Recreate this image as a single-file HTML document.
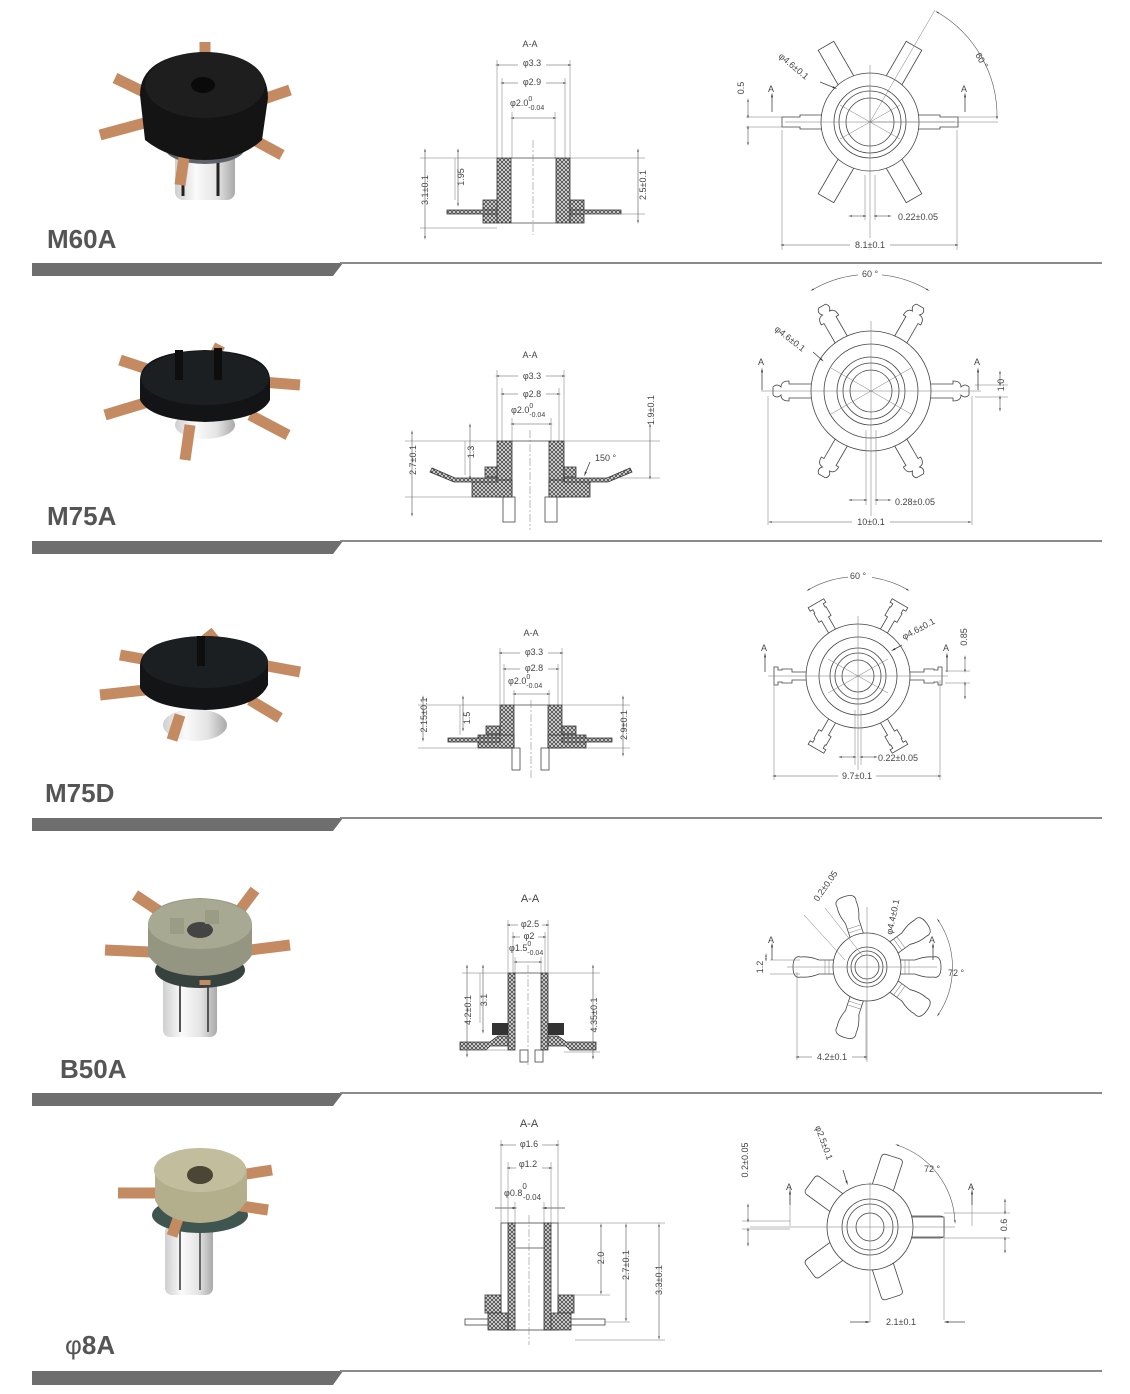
<!DOCTYPE html>
<html><head><meta charset="utf-8"><style>
html,body{margin:0;padding:0;background:#fff}
svg{display:block}
text{font-family:"Liberation Sans",sans-serif;fill:#444}
.t{font-size:9px}
.lab{font-size:26px;font-weight:bold;fill:#555}
.ln{stroke:#444;stroke-width:0.8;fill:none}
.thin{stroke:#777;stroke-width:0.5;fill:none}
.dim{stroke:#555;stroke-width:0.6;fill:none;marker-start:url(#a);marker-end:url(#a)}
.h{fill:url(#hx);stroke:#333;stroke-width:0.8}
.arm{fill:#fff;stroke:#444;stroke-width:0.8}
.cu{stroke:#c48a62;stroke-width:11;stroke-linecap:butt}
</style></head><body>
<svg width="1130" height="1394" viewBox="0 0 1130 1394" xmlns="http://www.w3.org/2000/svg">
<defs>
<pattern id="hx" width="4" height="4" patternUnits="userSpaceOnUse">
<rect width="4" height="4" fill="#ddd"/>
<path d="M0 0L4 4M4 0L0 4" stroke="#333" stroke-width="0.7"/>
</pattern>
<marker id="a" viewBox="0 0 10 10" refX="5" refY="5" markerWidth="6" markerHeight="6" orient="auto-start-reverse">
<path d="M0 3L10 5L0 7z" fill="#333"/>
</marker>
<linearGradient id="sil" x1="0" x2="1">
<stop offset="0" stop-color="#cfcfcf"/><stop offset="0.35" stop-color="#fafafa"/><stop offset="0.7" stop-color="#e4e4e4"/><stop offset="1" stop-color="#a9a9a9"/>
</linearGradient>
</defs>

<!-- dividers -->
<g fill="#6e6e6e">
<path d="M32 263H343L333 276H32Z"/>
<path d="M32 541H343L333 554H32Z"/>
<path d="M32 818H343L333 831H32Z"/>
<path d="M32 1093H343L333 1106H32Z"/>
<path d="M32 1371H343L333 1385H32Z"/>
</g>
<g stroke="#8a8a8a" stroke-width="2">
<line x1="340" y1="263" x2="1102" y2="263"/>
<line x1="340" y1="541" x2="1102" y2="541"/>
<line x1="340" y1="818" x2="1102" y2="818"/>
<line x1="340" y1="1093" x2="1102" y2="1093"/>
<line x1="340" y1="1371" x2="1102" y2="1371"/>
</g>

<!-- labels -->
<text class="lab" x="47" y="248">M60A</text>
<text class="lab" x="47" y="525">M75A</text>
<text class="lab" x="45" y="802">M75D</text>
<text class="lab" x="60" y="1078">B50A</text>
<text class="lab" x="65" y="1354"><tspan style="font-weight:normal">φ</tspan>8A</text>

<!-- ===== PHOTO 1 ===== -->
<g>
<rect x="175" y="140" width="60" height="60" rx="8" fill="url(#sil)"/>
<line x1="183" y1="160" x2="183" y2="196" stroke="#222" stroke-width="3"/>
<line x1="218" y1="160" x2="218" y2="196" stroke="#222" stroke-width="3"/>
<ellipse cx="205" cy="148" rx="40" ry="16" fill="#5f6268"/>
<line class="cu" x1="150" y1="95" x2="115" y2="78"/>
<line class="cu" x1="148" y1="122" x2="100" y2="135"/>
<line class="cu" x1="205" y1="60" x2="205" y2="42"/>
<line class="cu" x1="255" y1="102" x2="290" y2="90"/>
<line class="cu" x1="245" y1="135" x2="282" y2="155"/>
<line class="cu" x1="185" y1="150" x2="180" y2="185"/>
<path d="M140 95Q140 55 205 52Q268 55 268 98L262 140Q240 160 205 160Q170 160 145 140Z" fill="#141414"/>
<ellipse cx="205" cy="85" rx="60" ry="33" fill="#1e1e1e"/>
<ellipse cx="203" cy="85" rx="12" ry="8" fill="#0a0a0a"/>
</g>

<!-- ===== PHOTO 2 ===== -->
<g>
<ellipse cx="205" cy="425" rx="30" ry="14" fill="url(#sil)"/>
<line class="cu" x1="150" y1="370" x2="120" y2="360" stroke-width="9"/>
<line class="cu" x1="148" y1="402" x2="105" y2="415" stroke-width="9"/>
<line class="cu" x1="215" y1="355" x2="220" y2="345" stroke-width="9"/>
<line class="cu" x1="262" y1="382" x2="300" y2="385" stroke-width="9"/>
<line class="cu" x1="250" y1="415" x2="288" y2="435" stroke-width="9"/>
<line class="cu" x1="190" y1="425" x2="185" y2="460" stroke-width="9"/>
<path d="M140 380Q140 352 205 350Q270 352 270 380V400Q260 420 205 422Q150 420 140 400Z" fill="#121416"/>
<ellipse cx="205" cy="378" rx="64" ry="27" fill="#1c1f22"/>
<rect x="175" y="350" width="8" height="30" fill="#0e0e0e"/>
<rect x="214" y="348" width="8" height="32" fill="#0e0e0e"/>
</g>

<!-- ===== PHOTO 3 ===== -->
<g>
<ellipse cx="195" cy="725" rx="32" ry="16" fill="url(#sil)"/>
<line class="cu" x1="148" y1="660" x2="120" y2="655" stroke-width="8"/>
<line class="cu" x1="145" y1="690" x2="100" y2="695" stroke-width="8"/>
<line class="cu" x1="205" y1="640" x2="215" y2="632" stroke-width="8"/>
<line class="cu" x1="262" y1="665" x2="300" y2="672" stroke-width="8"/>
<line class="cu" x1="250" y1="700" x2="280" y2="718" stroke-width="8"/>
<line class="cu" x1="180" y1="715" x2="172" y2="740" stroke-width="8"/>
<path d="M140 665Q142 638 205 636Q268 638 268 665V685Q258 708 205 710Q150 708 140 688Z" fill="#121416"/>
<ellipse cx="205" cy="662" rx="63" ry="26" fill="#1c1f22"/>
<rect x="197" y="636" width="8" height="30" fill="#0e0e0e"/>
</g>

<!-- ===== PHOTO 4 ===== -->
<g>
<rect x="163" y="975" width="54" height="62" rx="7" fill="url(#sil)"/>
<line x1="180" y1="985" x2="180" y2="1032" stroke="#555" stroke-width="2"/>
<line x1="208" y1="985" x2="208" y2="1032" stroke="#555" stroke-width="2"/>
<ellipse cx="200" cy="970" rx="45" ry="18" fill="#36423e"/>
<line class="cu" x1="165" y1="915" x2="135" y2="895" stroke-width="12"/>
<line class="cu" x1="150" y1="952" x2="105" y2="950" stroke-width="12"/>
<line class="cu" x1="240" y1="910" x2="255" y2="890" stroke-width="12"/>
<line class="cu" x1="250" y1="950" x2="290" y2="945" stroke-width="12"/>
<line class="cu" x1="205" y1="980" x2="205" y2="985" stroke-width="18"/>
<path d="M148 925Q150 900 200 898Q250 900 252 925V955Q240 975 200 976Q160 975 148 955Z" fill="#959682"/>
<ellipse cx="200" cy="924" rx="52" ry="25" fill="#a8a993"/>
<ellipse cx="200" cy="930" rx="13" ry="8" fill="#444"/>
<rect x="170" y="918" width="14" height="16" fill="#9b9c86"/>
<rect x="205" y="910" width="14" height="14" fill="#9b9c86"/>
</g>

<!-- ===== PHOTO 5 ===== -->
<g>
<rect x="165" y="1225" width="48" height="70" rx="7" fill="url(#sil)"/>
<line x1="180" y1="1230" x2="180" y2="1290" stroke="#666" stroke-width="2"/>
<line x1="200" y1="1230" x2="200" y2="1290" stroke="#666" stroke-width="2"/>
<ellipse cx="200" cy="1215" rx="48" ry="18" fill="#3f5550"/>
<line class="cu" x1="160" y1="1193" x2="118" y2="1193" stroke-width="14"/>
<line class="cu" x1="240" y1="1175" x2="272" y2="1170" stroke-width="14"/>
<line class="cu" x1="235" y1="1205" x2="268" y2="1210" stroke-width="14"/>
<line class="cu" x1="180" y1="1213" x2="172" y2="1236" stroke-width="16"/>
<path d="M155 1170Q157 1150 200 1150Q245 1150 247 1172V1200Q236 1222 200 1223Q164 1222 155 1200Z" fill="#b3ae8c"/>
<ellipse cx="200" cy="1170" rx="46" ry="22" fill="#c2bd9c"/>
<ellipse cx="200" cy="1175" rx="13" ry="9" fill="#4a4535"/>
</g>

<!-- ===== SECTION 1 ===== -->
<g>
<text class="t" x="530" y="47" text-anchor="middle">A-A</text>
<line class="dim" x1="497" y1="65" x2="570" y2="65"/><rect x="518" y="58" width="28" height="11" fill="#fff"/><text class="t" x="532" y="66" text-anchor="middle">φ3.3</text>
<line class="dim" x1="502" y1="83" x2="565" y2="83"/><rect x="518" y="76" width="28" height="11" fill="#fff"/><text class="t" x="532" y="85" text-anchor="middle">φ2.9</text>
<text class="t" x="510" y="106">φ2.0<tspan font-size="7" dy="-5">0</tspan><tspan font-size="7" dx="-4" dy="9">-0.04</tspan></text>
<line class="dim" x1="512" y1="118" x2="555" y2="118"/>
<path class="thin" d="M497 60V158M570 60V158M502 78V158M565 78V158M512 112V158M555 112V158"/>
<rect class="h" x="497" y="158" width="14" height="65"/>
<rect class="h" x="556" y="158" width="14" height="65"/>
<line class="ln" x1="511" y1="158" x2="556" y2="158"/>
<line class="ln" x1="511" y1="223" x2="556" y2="223"/>
<rect class="h" x="483" y="200" width="14" height="23"/>
<rect class="h" x="570" y="200" width="14" height="23"/>
<rect class="h" x="447" y="210" width="50" height="4"/>
<rect class="h" x="570" y="210" width="51" height="4"/>
<path class="thin" d="M420 158H497M420 228H497M455 158V200M570 158H645M584 214H645"/>
<line class="dim" x1="425" y1="150" x2="425" y2="238"/>
<line class="dim" x1="458" y1="150" x2="458" y2="205"/>
<line class="dim" x1="638" y1="150" x2="638" y2="222"/>
<text class="t" transform="translate(428,190) rotate(-90)" text-anchor="middle">3.1±0.1</text>
<text class="t" transform="translate(464,177) rotate(-90)" text-anchor="middle">1.95</text>
<text class="t" transform="translate(646,185) rotate(-90)" text-anchor="middle">2.5±0.1</text>
<line class="thin" x1="533" y1="140" x2="533" y2="235" stroke-dasharray="8 2 2 2"/>
</g>

<!-- ===== STAR 1 ===== -->
<g transform="translate(870,122)">
<g class="arm">
<path d="M45 -7H70V-5H88V5H70V7H45Z"/>
<path d="M45 -7H70V-5H88V5H70V7H45Z" transform="rotate(180)"/>
<path d="M45 -9H88V9H45Z" transform="rotate(-60)"/>
<path d="M45 -9H88V9H45Z" transform="rotate(-120)"/>
<path d="M45 -9H88V9H45Z" transform="rotate(60)"/>
<path d="M45 -9H88V9H45Z" transform="rotate(120)"/>
</g>
<circle r="49" class="arm"/>
<circle r="36" class="ln"/><circle r="31" class="ln"/><circle r="24" class="ln"/>
<path class="thin" d="M-30 -17L30 17M-30 17L30 -17M0 -35V35M-85 0H85"/>
</g>
<g>
<path class="thin" d="M746 117H782M746 127H782M955 117H998M870 65V250M865 175V220M875 175V220M782 130V250M957 130V250"/>
<path class="thin" d="M870 122L935 10M870 122L998 122"/>
<line class="dim" x1="748" y1="100" x2="748" y2="117"/>
<line class="dim" x1="748" y1="144" x2="748" y2="127"/>
<text class="t" transform="translate(744,88) rotate(-90)" text-anchor="middle">0.5</text>
<line class="ln" x1="772" y1="95" x2="772" y2="112" marker-start="url(#a)"/>
<text class="t" x="768" y="92">A</text>
<line class="ln" x1="965" y1="95" x2="965" y2="112" marker-start="url(#a)"/>
<text class="t" x="961" y="92">A</text>
<path class="dim" d="M937 12A120 120 0 0 1 997 118"/>
<text class="t" transform="translate(975,55) rotate(60)">60 °</text>
<text class="t" transform="translate(778,57) rotate(40)">φ4.6±0.1</text>
<line class="ln" x1="820" y1="82" x2="835" y2="88" marker-end="url(#a)"/>
<line class="dim" x1="850" y1="216" x2="865" y2="216"/>
<line class="dim" x1="890" y1="216" x2="875" y2="216"/>
<text class="t" x="898" y="220">0.22±0.05</text>
<line class="dim" x1="782" y1="245" x2="957" y2="245"/>
<rect x="850" y="238" width="40" height="11" fill="#fff"/>
<text class="t" x="870" y="248" text-anchor="middle">8.1±0.1</text>
</g>

<!-- ===== SECTION 2 ===== -->
<g>
<text class="t" x="530" y="358" text-anchor="middle">A-A</text>
<line class="dim" x1="497" y1="376" x2="564" y2="376"/><rect x="518" y="369" width="28" height="11" fill="#fff"/><text class="t" x="532" y="379" text-anchor="middle">φ3.3</text>
<line class="dim" x1="502" y1="394" x2="559" y2="394"/><rect x="518" y="387" width="28" height="11" fill="#fff"/><text class="t" x="532" y="397" text-anchor="middle">φ2.8</text>
<text class="t" x="511" y="413">φ2.0<tspan font-size="7" dy="-5">0</tspan><tspan font-size="7" dx="-4" dy="9">-0.04</tspan></text>
<line class="dim" x1="512" y1="424" x2="551" y2="424"/>
<path class="thin" d="M497 370V441M564 370V441M502 388V441M559 388V441M512 418V441M551 418V441"/>
<rect class="h" x="497" y="441" width="15" height="56"/>
<rect class="h" x="549" y="441" width="15" height="56"/>
<rect class="h" x="472" y="480" width="40" height="17"/>
<rect class="h" x="549" y="480" width="41" height="17"/>
<rect class="h" x="485" y="467" width="12" height="10"/>
<rect class="h" x="564" y="467" width="12" height="10"/>
<path class="h" d="M432 468L455 478H497V482H454L430 472Z"/>
<path class="h" d="M630 468L607 478H564V482H608L632 472Z"/>
<line class="ln" x1="512" y1="441" x2="549" y2="441"/>
<rect class="ln" x="503" y="497" width="12" height="25"/>
<rect class="ln" x="545" y="497" width="12" height="25"/>
<line class="thin" x1="530" y1="430" x2="530" y2="530" stroke-dasharray="8 2 2 2"/>
<path class="thin" d="M405 441H497M405 497H472M465 441V475M564 441H660M620 478H660"/>
<line class="dim" x1="412" y1="432" x2="412" y2="515"/>
<line class="dim" x1="470" y1="425" x2="470" y2="478"/>
<line class="dim" x1="650" y1="425" x2="650" y2="478"/>
<text class="t" transform="translate(416,460) rotate(-90)" text-anchor="middle">2.7±0.1</text>
<text class="t" transform="translate(474,452) rotate(-90)" text-anchor="middle">1.3</text>
<text class="t" transform="translate(654,410) rotate(-90)" text-anchor="middle">1.9±0.1</text>
<text class="t" x="595" y="461">150 °</text>
<line class="ln" x1="590" y1="462" x2="585" y2="474" marker-end="url(#a)"/>
</g>

<!-- ===== STAR 2 ===== -->
<g transform="translate(871,391)">
<g class="arm">
<g id="ar2"><path d="M55 -7H82V-10Q90 -10 90 -4Q94 -8 98 -4V4Q94 8 90 4Q90 10 82 10V7H55Z"/></g>
<use href="#ar2" transform="rotate(180)"/>
<use href="#ar2" transform="rotate(60)"/>
<use href="#ar2" transform="rotate(120)"/>
<use href="#ar2" transform="rotate(-60)"/>
<use href="#ar2" transform="rotate(-120)"/>
</g>
<circle r="60" class="arm"/>
<circle r="47" class="ln"/><circle r="34" class="ln"/><circle r="28" class="ln"/><circle r="21" class="ln"/>
<path class="thin" d="M-40 -23L40 23M-40 23L40 -23M0 -70V130M-110 0H110"/>
</g>
<g>
<path class="thin" d="M768 396V525M972 396V525M866 430V505M876 430V505M975 385H1008M975 397H1008"/>
<line class="ln" x1="762" y1="370" x2="762" y2="390" marker-start="url(#a)"/>
<text class="t" x="758" y="365">A</text>
<line class="ln" x1="978" y1="370" x2="978" y2="390" marker-start="url(#a)"/>
<text class="t" x="974" y="365">A</text>
<line class="dim" x1="1000" y1="372" x2="1000" y2="385"/>
<line class="dim" x1="1000" y1="410" x2="1000" y2="397"/>
<text class="t" transform="translate(1004,385) rotate(-90)" text-anchor="middle">1.0</text>
<path class="dim" d="M812 290A115 115 0 0 1 928 290"/>
<rect x="858" y="268" width="24" height="10" fill="#fff"/>
<text class="t" x="862" y="277">60 °</text>
<text class="t" transform="translate(774,330) rotate(38)">φ4.6±0.1</text>
<line class="ln" x1="813" y1="352" x2="822" y2="360" marker-end="url(#a)"/>
<line class="dim" x1="850" y1="500" x2="866" y2="500"/>
<line class="dim" x1="890" y1="500" x2="876" y2="500"/>
<text class="t" x="895" y="505">0.28±0.05</text>
<line class="dim" x1="770" y1="522" x2="970" y2="522"/>
<rect x="852" y="516" width="38" height="11" fill="#fff"/>
<text class="t" x="871" y="525" text-anchor="middle">10±0.1</text>
</g>

<!-- ===== SECTION 3 ===== -->
<g>
<text class="t" x="531" y="636" text-anchor="middle">A-A</text>
<line class="dim" x1="500" y1="653" x2="562" y2="653"/><rect x="520" y="646" width="28" height="11" fill="#fff"/><text class="t" x="534" y="655" text-anchor="middle">φ3.3</text>
<line class="dim" x1="504" y1="669" x2="558" y2="669"/><rect x="520" y="662" width="28" height="11" fill="#fff"/><text class="t" x="534" y="671" text-anchor="middle">φ2.8</text>
<text class="t" x="508" y="684">φ2.0<tspan font-size="7" dy="-5">0</tspan><tspan font-size="7" dx="-4" dy="9">-0.04</tspan></text>
<line class="dim" x1="514" y1="694" x2="549" y2="694"/>
<path class="thin" d="M500 648V705M562 648V705M504 664V705M558 664V705M514 690V705M549 690V705"/>
<rect class="h" x="500" y="705" width="14" height="43"/>
<rect class="h" x="548" y="705" width="14" height="43"/>
<rect class="h" x="478" y="735" width="36" height="13"/>
<rect class="h" x="548" y="735" width="38" height="13"/>
<rect class="h" x="486" y="726" width="14" height="8"/>
<rect class="h" x="562" y="726" width="14" height="8"/>
<rect class="h" x="448" y="738" width="52" height="4"/>
<rect class="h" x="562" y="738" width="50" height="4"/>
<line class="ln" x1="514" y1="705" x2="548" y2="705"/>
<rect class="ln" x="512" y="748" width="8" height="22"/>
<rect class="ln" x="541" y="748" width="8" height="22"/>
<line class="thin" x1="531" y1="700" x2="531" y2="780" stroke-dasharray="8 2 2 2"/>
<path class="thin" d="M418 705H500M418 748H478M460 705V735M562 705H630M586 748H630"/>
<line class="dim" x1="423" y1="697" x2="423" y2="740"/>
<line class="dim" x1="463" y1="697" x2="463" y2="730"/>
<line class="dim" x1="623" y1="697" x2="623" y2="755"/>
<text class="t" transform="translate(427,715) rotate(-90)" text-anchor="middle">2.15±0.1</text>
<text class="t" transform="translate(470,718) rotate(-90)" text-anchor="middle">1.5</text>
<text class="t" transform="translate(627,725) rotate(-90)" text-anchor="middle">2.9±0.1</text>
</g>

<!-- ===== STAR 3 ===== -->
<g transform="translate(858,676)">
<g class="arm">
<g id="ar3"><path d="M50 -4H66V-7H76V-6H80V-9H84V9H80V6H76V7H66V4H50Z"/></g>
<use href="#ar3" transform="rotate(180)"/>
<use href="#ar3" transform="rotate(60)"/>
<use href="#ar3" transform="rotate(120)"/>
<use href="#ar3" transform="rotate(-60)"/>
<use href="#ar3" transform="rotate(-120)"/>
</g>
<circle r="52" class="arm"/>
<circle r="39" class="ln"/><circle r="28" class="ln"/><circle r="23" class="ln"/><circle r="16" class="ln"/>
<path class="thin" d="M-30 -17L30 17M-30 17L30 -17M0 -60V105M-90 0H90"/>
</g>
<g>
<path class="thin" d="M774 680V780M940 680V780M855 710V765M861 710V765M945 671H970M945 683H970"/>
<line class="ln" x1="765" y1="655" x2="765" y2="672" marker-start="url(#a)"/>
<text class="t" x="761" y="651">A</text>
<line class="ln" x1="947" y1="655" x2="947" y2="672" marker-start="url(#a)"/>
<text class="t" x="943" y="651">A</text>
<line class="dim" x1="965" y1="657" x2="965" y2="671"/>
<line class="dim" x1="965" y1="698" x2="965" y2="683"/>
<text class="t" transform="translate(967,637) rotate(-90)" text-anchor="middle">0.85</text>
<path class="dim" d="M808 590A100 100 0 0 1 908 590"/>
<rect x="848" y="571" width="24" height="10" fill="#fff"/>
<text class="t" x="850" y="579">60 °</text>
<text class="t" transform="translate(904,640) rotate(-28)">φ4.6±0.1</text>
<line class="ln" x1="902" y1="645" x2="893" y2="650" marker-end="url(#a)"/>
<line class="dim" x1="840" y1="757" x2="855" y2="757"/>
<line class="dim" x1="876" y1="757" x2="861" y2="757"/>
<text class="t" x="878" y="761">0.22±0.05</text>
<line class="dim" x1="774" y1="776" x2="940" y2="776"/>
<rect x="838" y="770" width="38" height="11" fill="#fff"/>
<text class="t" x="857" y="779" text-anchor="middle">9.7±0.1</text>
</g>

<!-- ===== SECTION 4 ===== -->
<g>
<text x="530" y="902" text-anchor="middle" style="font-size:11px">A-A</text>
<line class="dim" x1="508" y1="925" x2="548" y2="925"/><rect x="518" y="918" width="24" height="11" fill="#fff"/><text class="t" x="530" y="927" text-anchor="middle">φ2.5</text>
<line class="dim" x1="513" y1="937" x2="545" y2="937"/><rect x="520" y="931" width="18" height="10" fill="#fff"/><text class="t" x="529" y="939" text-anchor="middle">φ2</text>
<text class="t" x="509" y="951">φ1.5<tspan font-size="7" dy="-5">0</tspan><tspan font-size="7" dx="-4" dy="9">-0.04</tspan></text>
<line class="dim" x1="515" y1="962" x2="541" y2="962"/>
<path class="thin" d="M508 920V973M548 920V973M513 932V973M545 932V973M515 957V973M541 957V973"/>
<rect class="h" x="508" y="973" width="7" height="77"/>
<rect class="h" x="541" y="973" width="7" height="77"/>
<line class="ln" x1="515" y1="973" x2="541" y2="973"/>
<rect x="492" y="1023" width="16" height="12" fill="#333"/>
<rect x="548" y="1023" width="16" height="12" fill="#333"/>
<path class="h" d="M460 1042H490L498 1036H508V1046H490L486 1050H460Z"/>
<path class="h" d="M596 1042H566L558 1036H548V1046H566L570 1050H596Z"/>
<rect class="ln" x="520" y="1050" width="8" height="12"/>
<rect class="ln" x="535" y="1050" width="8" height="12"/>
<line class="thin" x1="528" y1="965" x2="528" y2="1065" stroke-dasharray="8 2 2 2"/>
<path class="thin" d="M462 973H508M462 1050H508M480 973V1023M548 973H600M564 1052H600"/>
<line class="dim" x1="467" y1="966" x2="467" y2="1056"/>
<line class="dim" x1="483" y1="966" x2="483" y2="1032"/>
<line class="dim" x1="593" y1="966" x2="593" y2="1058"/>
<text class="t" transform="translate(471,1010) rotate(-90)" text-anchor="middle">4.2±0.1</text>
<text class="t" transform="translate(487,1000) rotate(-90)" text-anchor="middle">3.1</text>
<text class="t" transform="translate(597,1015) rotate(-90)" text-anchor="middle">4.35±0.1</text>
</g>

<!-- ===== STAR 4 ===== -->
<g transform="translate(867,967)">
<g class="arm">
<g id="ar4"><path d="M30 -7H48Q58 -11 66 -10Q74 -12 74 0Q74 12 66 10Q58 11 48 7H30Z"/><path class="thin" d="M38 -7V7M42 -7V7"/></g>
<use href="#ar4" transform="rotate(180)"/>
<use href="#ar4" transform="rotate(-108)"/>
<use href="#ar4" transform="rotate(-36)"/>
<use href="#ar4" transform="rotate(36)"/>
<use href="#ar4" transform="rotate(108)"/>
</g>
<circle r="34" class="arm"/>
<circle r="20" class="ln"/><circle r="16" class="ln"/><circle r="12" class="ln"/>
<path class="thin" d="M0 -60V95M-80 0H70"/>
</g>
<g>
<path class="thin" d="M797 972V1060M866 1000V1060M770 960H800M770 974H800M825 908L862 955M804 915L845 960"/>
<line class="ln" x1="772" y1="945" x2="772" y2="960" marker-start="url(#a)"/>
<text class="t" x="768" y="943">A</text>
<line class="ln" x1="933" y1="945" x2="933" y2="960" marker-start="url(#a)"/>
<text class="t" x="929" y="943">A</text>
<line class="dim" x1="766" y1="955" x2="766" y2="960"/>
<text class="t" transform="translate(763,967) rotate(-90)" text-anchor="middle">1.2</text>
<path class="dim" d="M938 920A85 85 0 0 1 938 1015"/>
<text class="t" x="948" y="976">72 °</text>
<text class="t" transform="translate(818,902) rotate(-55)">0.2±0.05</text>
<text class="t" transform="translate(892,935) rotate(-78)">φ4.4±0.1</text>
<line class="dim" x1="797" y1="1057" x2="866" y2="1057"/>
<rect x="812" y="1051" width="40" height="11" fill="#fff"/>
<text class="t" x="832" y="1060" text-anchor="middle">4.2±0.1</text>
</g>

<!-- ===== SECTION 5 ===== -->
<g>
<text x="529" y="1127" text-anchor="middle" style="font-size:11px">A-A</text>
<line class="dim" x1="501" y1="1145" x2="558" y2="1145"/><rect x="516" y="1138" width="26" height="11" fill="#fff"/><text class="t" x="529" y="1147" text-anchor="middle">φ1.6</text>
<line class="dim" x1="508" y1="1168" x2="551" y2="1168"/><rect x="516" y="1159" width="26" height="11" fill="#fff"/><text class="t" x="528" y="1167" text-anchor="middle">φ1.2</text>
<text class="t" x="504" y="1196">φ0.8<tspan font-size="8" dy="-7">0</tspan><tspan font-size="8" dx="-4" dy="11">-0.04</tspan></text>
<line class="ln" x1="495" y1="1208" x2="515" y2="1208" marker-end="url(#a)"/>
<line class="ln" x1="565" y1="1208" x2="544" y2="1208" marker-end="url(#a)"/>
<path class="thin" d="M501 1140V1223M558 1140V1223M508 1162V1223M551 1162V1223M515 1202V1223M544 1202V1223"/>
<rect class="ln" x="501" y="1223" width="57" height="107" fill="#fff"/>
<rect class="h" x="508" y="1223" width="7" height="107"/>
<rect class="h" x="544" y="1223" width="7" height="107"/>
<line class="ln" x1="515" y1="1248" x2="544" y2="1248"/>
<rect class="h" x="485" y="1295" width="16" height="18"/>
<rect class="h" x="558" y="1295" width="16" height="18"/>
<path class="h" d="M488 1313H508V1330H488Z"/>
<path class="h" d="M551 1313H571V1330H551Z"/>
<rect class="ln" x="465" y="1319" width="23" height="6" fill="#fff"/>
<rect class="ln" x="571" y="1319" width="34" height="6" fill="#fff"/>
<line class="thin" x1="529" y1="1215" x2="529" y2="1345" stroke-dasharray="8 2 2 2"/>
<path class="thin" d="M558 1223H665M574 1295H610M605 1322H630M575 1340H665"/>
<line class="dim" x1="601" y1="1225" x2="601" y2="1293"/>
<line class="dim" x1="626" y1="1225" x2="626" y2="1320"/>
<line class="dim" x1="659" y1="1225" x2="659" y2="1338"/>
<text class="t" transform="translate(604,1258) rotate(-90)" text-anchor="middle">2.0</text>
<text class="t" transform="translate(629,1265) rotate(-90)" text-anchor="middle">2.7±0.1</text>
<text class="t" transform="translate(662,1280) rotate(-90)" text-anchor="middle">3.3±0.1</text>
</g>

<!-- ===== STAR 5 ===== -->
<g transform="translate(870,1227)">
<g class="arm">
<g id="ar5"><path d="M40 -11H70Q74 -11 74 -7V7Q74 11 70 11H40Z"/></g>
<use href="#ar5" transform="rotate(-72)"/>
<use href="#ar5" transform="rotate(-144)"/>
<use href="#ar5" transform="rotate(144)"/>
<use href="#ar5" transform="rotate(72)"/>
<path d="M40 -10H74V10H40Z"/>
</g>
<circle r="43" class="arm"/>
<circle r="28" class="ln"/><circle r="23" class="ln"/><circle r="14" class="ln"/>
<path class="thin" d="M0 -45V95M-120 0H85"/>
</g>
<g>
<path class="thin" d="M742 1221H790M742 1229H790M944 1238H1010M944 1213H1010M944 1233V1320M790 1185V1226M972 1185V1226"/>
<line class="ln" x1="790" y1="1192" x2="790" y2="1205" marker-start="url(#a)"/>
<text class="t" x="786" y="1190">A</text>
<line class="ln" x1="972" y1="1192" x2="972" y2="1205" marker-start="url(#a)"/>
<text class="t" x="968" y="1190">A</text>
<line class="dim" x1="748" y1="1205" x2="748" y2="1221"/>
<line class="dim" x1="748" y1="1245" x2="748" y2="1229"/>
<text class="t" transform="translate(748,1160) rotate(-90)" text-anchor="middle">0.2±0.05</text>
<line class="dim" x1="1005" y1="1200" x2="1005" y2="1213"/>
<line class="dim" x1="1005" y1="1252" x2="1005" y2="1238"/>
<text class="t" transform="translate(1007,1225) rotate(-90)" text-anchor="middle">0.6</text>
<text class="t" transform="translate(815,1127) rotate(70)">φ2.5±0.1</text>
<line class="ln" x1="843" y1="1170" x2="847" y2="1183" marker-end="url(#a)"/>
<path class="dim" d="M897 1145A85 85 0 0 1 955 1222"/>
<text class="t" x="924" y="1172">72 °</text>
<line class="ln" x1="850" y1="1322" x2="868" y2="1322" marker-end="url(#a)"/>
<line class="ln" x1="965" y1="1322" x2="946" y2="1322" marker-end="url(#a)"/>
<text class="t" x="886" y="1325">2.1±0.1</text>
</g>
</svg>
</body></html>
